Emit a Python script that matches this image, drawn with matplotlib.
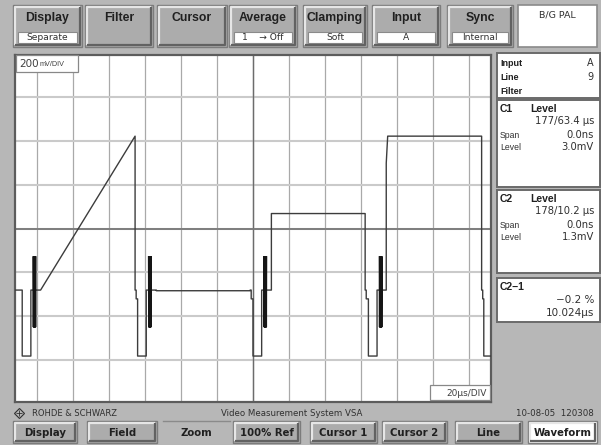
# -*- coding: utf-8 -*-
# Video measurement screen: PAL line waveform (ramp / black / grey / white)

import numpy as np
import matplotlib
matplotlib.use("Agg")
import matplotlib.pyplot as plt
from matplotlib.patches import Rectangle

plt.rcParams['font.family'] = ['Liberation Sans', 'DejaVu Sans']

# DATA
sync_times = [-128, -64, 0, 64, 128]      # us, falling edge of each H sync
blank_mv = -280
sync_mv = -580
porch_mv = -320
sync_width = 4.8
burst_t = [6.0, 7.6]                       # us after sync edge
burst_mid = -288
burst_amp = 160
# active video of each line: times (us after sync) and levels (mV)
video_t = [[10.2, 62.6], [10.4, 62.4], [10.2, 62.2], [9.9, 10.7, 62.8]]
video_mv = [[-280, 420], [-283, -283], [68, 68], [297, 420, 420]]

top_buttons = ["Display", "Filter", "Cursor", "Average", "Clamping", "Input", "Sync"]
top_values = ["Separate", None, None, "1    \u2192 Off", "Soft", "A", "Internal"]
standard_label = "B/G PAL"
bottom_buttons = ["Display", "Field", "Zoom", "100% Ref", "Cursor 1", "Cursor 2", "Line", "Waveform"]

info_labels = ["Input", "Line", "Filter"]
info_values = ["A", "9", ""]
c1_pos, c1_span, c1_level = "177/63.4 \u00b5s", "0.0ns", "3.0mV"
c2_pos, c2_span, c2_level = "178/10.2 \u00b5s", "0.0ns", "1.3mV"
diff_pct, diff_time = "\u22120.2 %", "10.024\u00b5s"

# COLOURS
bg = '#b7b7b7'
face = '#acacac'
trace_col = '#3c3c3c'
txt = '#303030'
dv = 'DejaVu Sans'

# build the trace
t = [-134, sync_times[0]]
v = [blank_mv, blank_mv]
for k, t0 in enumerate(sync_times):
    t += [t0, t0 + sync_width, t0 + sync_width]
    v += [sync_mv, sync_mv, blank_mv]
    if k == len(sync_times) - 1:
        break
    vt, vv = video_t[k], video_mv[k]
    t += [t0 + vt[0]] + [t0 + x for x in vt] + [t0 + vt[-1], t0 + vt[-1] + 0.6, t0 + vt[-1] + 0.6, sync_times[k + 1]]
    v += [blank_mv] + vv + [blank_mv, blank_mv, porch_mv, porch_mv]

fig = plt.figure(figsize=(6.01, 4.45), dpi=100, facecolor=bg)
ax = fig.add_axes([15 / 601, 1 - 402 / 445, 476 / 601, 347 / 445], zorder=1)
ax.set_facecolor('white')
ax.set_xlim(-132, 132)
ax.set_ylim(-789, 789)
ax.set_xticks(np.arange(-120, 121, 20))
ax.set_yticks(np.arange(-600, 601, 200))
ax.tick_params(length=0, labelbottom=False, labelleft=False)
ax.grid(axis='x', color='#a9a9a9', lw=0.9)
ax.grid(axis='y', color='#cacaca', lw=1.5)
ax.set_axisbelow(True)
ax.axvline(0, color='#6c6c6c', lw=1.0, zorder=1)
ax.axhline(0, color='#787878', lw=1.3, zorder=1)
for s in ax.spines.values():
    s.set_color('#5c5c5c')
    s.set_linewidth(1.6)

ax.plot(t, v, color=trace_col, lw=1.0, zorder=3)
for t0 in sync_times[:-1]:
    bt = np.linspace(t0 + burst_t[0], t0 + burst_t[1], 15)
    bv = burst_mid + burst_amp * np.resize([1, -1], len(bt))
    ax.plot(bt, bv, color='#151515', lw=0.8, zorder=4)

# overlay in pixel coordinates for the instrument UI
ui = fig.add_axes([0, 0, 1, 1], zorder=3)
ui.set_xlim(0, 601)
ui.set_ylim(445, 0)
ui.axis('off')


def bevel(x0, y0, x1, y1, fc=face, raised=True):
    ui.add_patch(Rectangle((x0, y0), x1 - x0, y1 - y0, facecolor=fc, edgecolor='#7c7c7c', lw=1.0))
    lt, dk = ('#e6e6e6', '#626262') if raised else ('#626262', '#e6e6e6')
    ui.plot([x0 + 2, x0 + 2, x1 - 2], [y1 - 2, y0 + 2, y0 + 2], color=lt, lw=1.6, solid_capstyle='butt')
    ui.plot([x0 + 2, x1 - 2, x1 - 2], [y1 - 2, y1 - 2, y0 + 2], color=dk, lw=1.6, solid_capstyle='butt')


def box(x0, y0, x1, y1, ec='#6e6e6e', lw=1.0):
    ui.add_patch(Rectangle((x0, y0), x1 - x0, y1 - y0, facecolor='white', edgecolor=ec, lw=lw))


# top buttons
top_x = [(13, 82), (85, 153), (157, 227), (229, 297), (303, 367), (372, 440), (447, 513)]
for (x0, x1), name, val in zip(top_x, top_buttons, top_values):
    bevel(x0, 5, x1, 47)
    ui.text((x0 + x1) / 2, 18, name, ha='center', va='center', fontsize=8.8, fontweight='bold', color='#202020')
    if val is not None:
        box(x0 + 5, 32, x1 - 5, 43, ec='#8a8a8a', lw=0.8)
        ui.text((x0 + x1) / 2, 37.8, val, ha='center', va='center', fontsize=6.6, family=dv, color=txt)
box(518, 5, 597, 47, ec='#8a8a8a', lw=1.2)
ui.text(557, 15, standard_label, ha='center', va='center', fontsize=6.8, family=dv, color=txt)

# labels inside the scope area
box(16, 55, 78, 72, ec='#888888', lw=0.9)
ui.text(19, 64, "200", ha='left', va='center', fontsize=7.5, family=dv, color='#404040')
ui.text(40, 64.5, "mV/DIV", ha='left', va='center', fontsize=5.2, color='#404040')
box(430, 385, 490, 400, ec='#888888', lw=0.9)
ui.text(487, 393, "20\u00b5s/DIV", ha='right', va='center', fontsize=6.5, family=dv, color='#404040')

# right info panel
box(497, 53, 600, 98, ec='#6a6a6a', lw=1.4)
for i, (lab, val) in enumerate(zip(info_labels, info_values)):
    ui.text(500, 63 + 14 * i, lab, ha='left', va='center', fontsize=6.5, fontweight='bold', color='#202020')
    ui.text(594, 63 + 14 * i, val, ha='right', va='center', fontsize=7, family=dv, color=txt)

for (y0, y1, cname, pos, span, lev) in [(100, 187, "C1", c1_pos, c1_span, c1_level),
                                        (190, 273, "C2", c2_pos, c2_span, c2_level)]:
    box(497, y0, 600, y1, ec='#6a6a6a', lw=1.4)
    ui.text(500, y0 + 9, cname, ha='left', va='center', fontsize=7.5, fontweight='bold', color='#202020')
    ui.text(530, y0 + 9, "Level", ha='left', va='center', fontsize=7.5, fontweight='bold', color='#202020')
    ui.text(594, y0 + 21, pos, ha='right', va='center', fontsize=7.2, family=dv, color=txt)
    ui.text(500, y0 + 35, "Span", ha='left', va='center', fontsize=6.2, color=txt)
    ui.text(594, y0 + 35, span, ha='right', va='center', fontsize=7.2, family=dv, color=txt)
    ui.text(500, y0 + 47, "Level", ha='left', va='center', fontsize=6.2, color=txt)
    ui.text(594, y0 + 47, lev, ha='right', va='center', fontsize=7.2, family=dv, color=txt)

box(497, 278, 600, 322, ec='#6a6a6a', lw=1.4)
ui.text(500, 287, "C2\u22121", ha='left', va='center', fontsize=7.5, fontweight='bold', color='#202020')
ui.text(594, 300, diff_pct, ha='right', va='center', fontsize=7.5, family=dv, color=txt)
ui.text(594, 313, diff_time, ha='right', va='center', fontsize=7.5, family=dv, color=txt)

# status line
ui.plot([19], [413], marker='D', ms=5, mfc='none', mec=txt, mew=0.8)
ui.plot([19], [413], marker='+', ms=4, color=txt, mew=0.6)
ui.text(32, 413, "ROHDE & SCHWARZ", ha='left', va='center', fontsize=6.0, family=dv, color=txt)
ui.text(292, 413, "Video Measurement System VSA", ha='center', va='center', fontsize=6.2, family=dv, color=txt)
ui.text(594, 413, "10-08-05  120308", ha='right', va='center', fontsize=6.2, family=dv, color=txt)

# bottom buttons
bot_x = [(13, 77), (87, 157), (163, 230), (233, 300), (310, 377), (382, 447), (455, 522), (528, 597)]
for (x0, x1), name in zip(bot_x, bottom_buttons):
    if name == "Zoom":
        ui.plot([x0, x1], [421, 421], color='#8a8a8a', lw=1.0)
    elif name == "Waveform":
        bevel(x0, 421, x1, 443, fc='white')
    else:
        bevel(x0, 421, x1, 443)
    ui.text((x0 + x1) / 2, 432.5, name, ha='center', va='center', fontsize=7.3, fontweight='bold', family=dv, color='#202020')

fig.savefig("out.png", dpi=100, facecolor=bg)
